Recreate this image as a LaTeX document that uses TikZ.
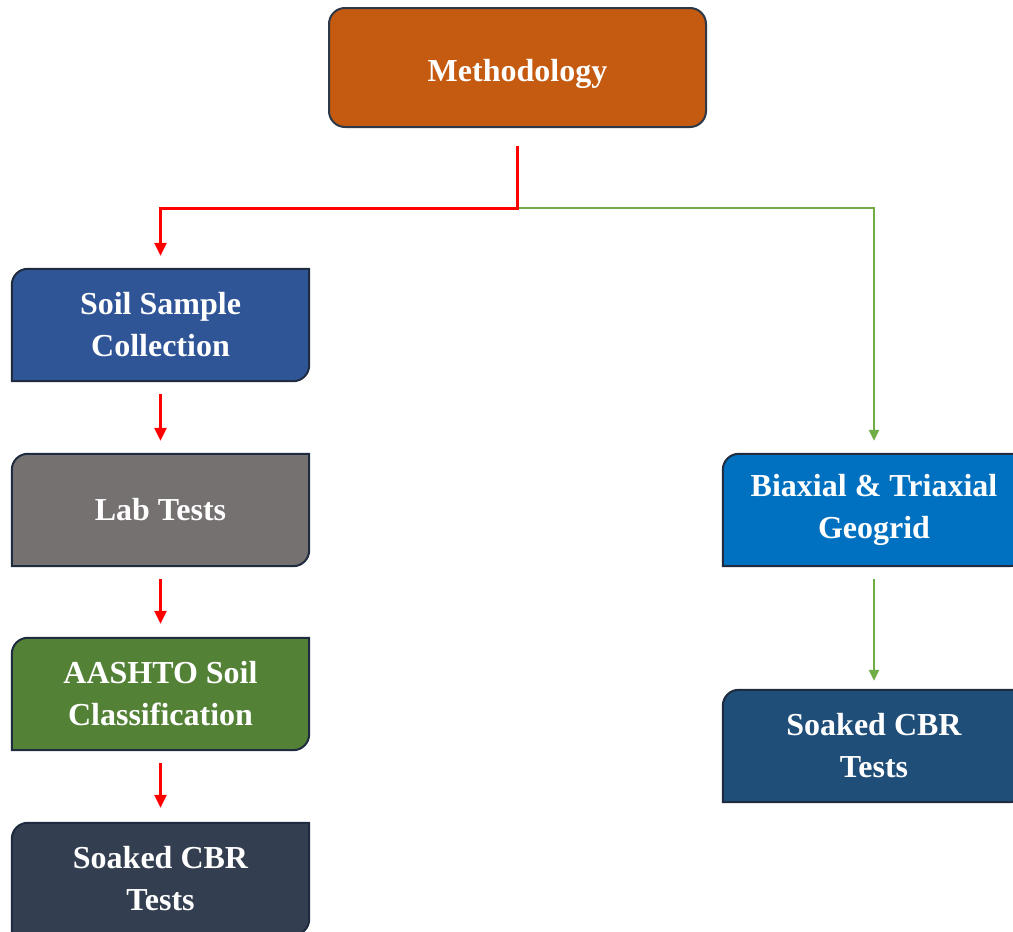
\documentclass[tikz,border=0pt]{standalone}
\usepackage{fontspec}
\setmainfont{Liberation Serif}
\usetikzlibrary{arrows.meta,calc,backgrounds}
\definecolor{methc}{HTML}{C55A11}
\definecolor{soilc}{HTML}{2F5597}
\definecolor{labc}{HTML}{767171}
\definecolor{aashc}{HTML}{538135}
\definecolor{soakLc}{HTML}{333F50}
\definecolor{biaxc}{HTML}{0070C0}
\definecolor{soakRc}{HTML}{1F4E79}
\definecolor{boxline}{HTML}{1F2B3E}
\definecolor{redc}{HTML}{FF0000}
\definecolor{greenc}{HTML}{70AD47}
\newcommand\diagcorner[2]{%
  \begin{pgfonlayer}{background}
  \path[fill=#2, draw=boxline, line width=2pt]
    (#1.south west) -- ($(#1.north west)+(0,-16)$)
    arc[start angle=180,end angle=90,radius=16pt]
    -- (#1.north east) -- ($(#1.south east)+(0,16)$)
    arc[start angle=0,end angle=-90,radius=16pt] -- cycle;
  \end{pgfonlayer}}
\tikzset{
  box/.style={text=white, font=\bfseries\fontsize{32}{42}\selectfont, align=center,
    minimum width=297pt, minimum height=112pt, inner sep=0pt},
  redarrow/.style={draw=redc, line width=3pt, -{Triangle[length=13pt,width=12pt]}},
  greenarrow/.style={draw=greenc, line width=2.5pt, -{Triangle[length=11pt,width=10pt]}}
}
\begin{document}
\begin{tikzpicture}[x=1pt,y=1pt]
\useasboundingbox (0,0) rectangle (1013,-932);
\node[box, minimum width=377pt, minimum height=119pt, fill=methc, draw=boxline!85!gray,
  line width=2pt, rounded corners=16pt] (meth) at (517.5,-67.5) {\raisebox{-6pt}[\height][\depth]{Methodology}};
\node[box] (soil) at (160.5,-325) {Soil Sample\\Collection};
\diagcorner{soil}{soilc}
\node[box] (lab) at (160.5,-510) {Lab Tests};
\diagcorner{lab}{labc}
\node[box] (aash) at (160.5,-694) {AASHTO Soil\\Classification};
\diagcorner{aash}{aashc}
\node[box] (soakL) at (160.5,-879) {Soaked CBR\\Tests};
\diagcorner{soakL}{soakLc}
\node[box, minimum width=302pt] (biax) at (874,-510) {Biaxial \& Triaxial\\Geogrid};
\diagcorner{biax}{biaxc}
\node[box, minimum width=302pt] (soakR) at (874,-746) {Soaked CBR\\Tests};
\diagcorner{soakR}{soakRc}
\coordinate (split) at (517.5,-208);
\draw[greenarrow, shorten >=13pt] (split) -| (biax.north);
\draw[redarrow, shorten <=18pt, shorten >=13pt] (meth.south) -- (split) -| (soil.north);
\draw[redarrow, shorten <=13pt, shorten >=13pt] (soil.south) -- (lab.north);
\draw[redarrow, shorten <=13pt, shorten >=14pt] (lab.south) -- (aash.north);
\draw[redarrow, shorten <=13pt, shorten >=15pt] (aash.south) -- (soakL.north);
\draw[greenarrow, shorten <=13pt, shorten >=9pt] (biax.south) -- (soakR.north);
\end{tikzpicture}
\end{document}
